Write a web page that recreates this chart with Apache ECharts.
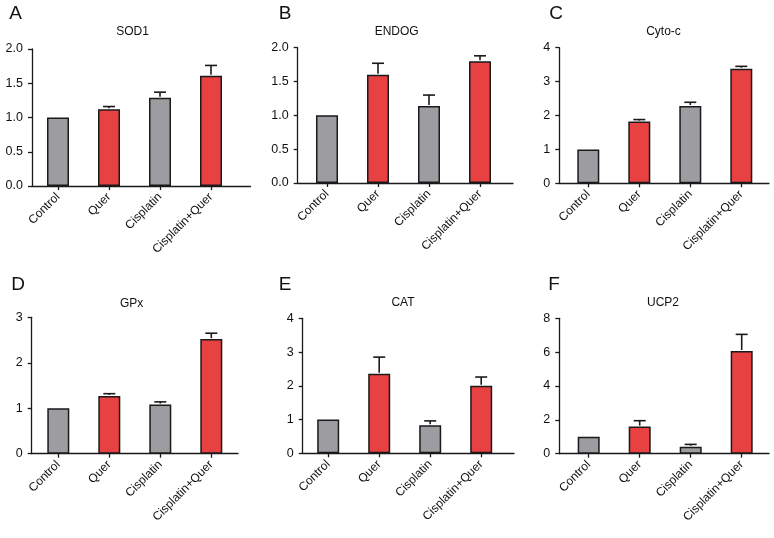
<!DOCTYPE html>
<html>
<head>
<meta charset="utf-8">
<script src="https://cdn.jsdelivr.net/npm/echarts@6/dist/echarts.min.js"></script>
<style>
html,body{margin:0;padding:0;background:#fff;}
#chart{width:774px;height:538px;}
</style>
</head>
<body>
<div id="chart"></div>
<script>
// ---- data ----
const categories = ['Control', 'Quer', 'Cisplatin', 'Cisplatin+Quer'];
const panelLetters = ['A', 'B', 'C', 'D', 'E', 'F'];
const panelTitles = ['SOD1', 'ENDOG', 'Cyto-c', 'GPx', 'CAT', 'UCP2'];
const sod1 = [1.00, 1.12, 1.29, 1.61];
const sod1Err = [0, 0.04, 0.08, 0.15];
const endog = [1.00, 1.60, 1.14, 1.80];
const endogErr = [0, 0.17, 0.16, 0.08];
const cytoc = [1.00, 1.82, 2.28, 3.38];
const cytocErr = [0, 0.06, 0.11, 0.07];
const gpx = [1.00, 1.27, 1.08, 2.52];
const gpxErr = [0, 0.05, 0.06, 0.13];
const cat = [1.00, 2.36, 0.83, 2.00];
const catErr = [0, 0.49, 0.13, 0.26];
const ucp2 = [1.00, 1.60, 0.41, 6.07];
const ucp2Err = [0, 0.35, 0.14, 0.98];
const yMax = [2, 2, 4, 3, 4, 8];
const yStep = [0.5, 0.5, 1, 1, 1, 2];
const yDecimals = [1, 1, 0, 0, 0, 0];

const values = [sod1, endog, cytoc, gpx, cat, ucp2];
const errors = [sod1Err, endogErr, cytocErr, gpxErr, catErr, ucp2Err];

// ---- layout (pixels) ----
const layout = [
  {axisX: 32,    gridLeft: 32.5,  xEnd: 250.5, top: 49,    h: 137,   letter: [15.5, 14],  title: [132.5, 31.5]},
  {axisX: 297.7, gridLeft: 301.5, xEnd: 513,   top: 47.7,  h: 135.3, letter: [285, 14],   title: [396.7, 31.7]},
  {axisX: 559.3, gridLeft: 562.8, xEnd: 769,   top: 47.7,  h: 135.6, letter: [556, 13.5], title: [663.5, 31.5]},
  {axisX: 31.7,  gridLeft: 32.8,  xEnd: 238,   top: 317.3, h: 136.4, letter: [18, 285],   title: [131.7, 304]},
  {axisX: 302.7, gridLeft: 302.7, xEnd: 514,   top: 318.3, h: 135,   letter: [285, 285],  title: [403, 303]},
  {axisX: 559.3, gridLeft: 563.2, xEnd: 769,   top: 318.3, h: 135.4, letter: [554, 285],  title: [663, 303]}
];
const bandW = 51;
const FONT = '"Liberation Sans", Arial, sans-serif';
const GRAY = '#9d9ca1';
const RED = '#e84141';
const INK = '#1a1a1a';

const grid = [], xAxis = [], yAxis = [], series = [], graphic = [];

layout.forEach((L, p) => {
  grid.push({left: L.gridLeft, top: L.top, width: bandW * 4, height: L.h, containLabel: false});
  grid.push({left: L.axisX, top: L.top, width: L.xEnd - L.axisX, height: L.h, containLabel: false});
  const gMain = p * 2, gLine = p * 2 + 1;

  xAxis.push({
    type: 'category', gridIndex: gMain, data: categories,
    axisLine: {show: false},
    axisTick: {show: true, alignWithLabel: true, length: 4, lineStyle: {color: INK, width: 1.3}},
    axisLabel: {rotate: 45, fontSize: 12, color: '#111', fontFamily: FONT, margin: 9, interval: 0},
    splitLine: {show: false}
  });
  xAxis.push({
    type: 'value', gridIndex: gLine, min: 0, max: 1,
    axisLine: {show: true, onZero: false, lineStyle: {color: INK, width: 1.3}},
    axisTick: {show: false}, axisLabel: {show: false}, splitLine: {show: false}
  });
  yAxis.push({
    type: 'value', gridIndex: gMain, min: 0, max: yMax[p], interval: yStep[p],
    offset: L.gridLeft - L.axisX,
    axisLine: {show: true, lineStyle: {color: INK, width: 1.3}},
    axisTick: {show: true, length: 4, lineStyle: {color: INK, width: 1.3}},
    axisLabel: {fontSize: 12.5, color: '#111', fontFamily: FONT, margin: 9,
      formatter: (v) => v.toFixed(yDecimals[p])},
    splitLine: {show: false}
  });
  yAxis.push({type: 'value', gridIndex: gLine, show: false, min: 0, max: 1});

  const yi = p * 2, xi = p * 2;
  series.push({
    type: 'bar', xAxisIndex: xi, yAxisIndex: yi,
    data: values[p], barWidth: 22,
    itemStyle: {
      color: (prm) => (prm.dataIndex % 2 === 1 ? RED : GRAY),
      borderColor: INK, borderWidth: 1.5
    },
    silent: true, animation: false
  });
  series.push({
    type: 'custom', xAxisIndex: xi, yAxisIndex: yi,
    data: values[p].map((v, i) => [i, v, errors[p][i]]),
    renderItem: (params, api) => {
      const i = api.value(0), v = api.value(1), e = api.value(2);
      if (!e) return null;
      const base = api.coord([i, v]);
      const top = api.coord([i, v + e]);
      const cap = 6;
      const st = {stroke: INK, lineWidth: 1.6};
      return {
        type: 'group', children: [
          {type: 'line', shape: {x1: base[0], y1: base[1] - 1, x2: top[0], y2: top[1]}, style: st},
          {type: 'line', shape: {x1: top[0] - cap, y1: top[1], x2: top[0] + cap, y2: top[1]}, style: st}
        ]
      };
    },
    z: 5, silent: true, animation: false
  });

  graphic.push({type: 'text', x: L.letter[0], y: L.letter[1],
    style: {text: panelLetters[p], fontSize: 19, fontFamily: FONT, fill: '#111', align: 'center', verticalAlign: 'middle'}});
  graphic.push({type: 'text', x: L.title[0], y: L.title[1],
    style: {text: panelTitles[p], fontSize: 12, fontFamily: FONT, fill: '#111', align: 'center', verticalAlign: 'middle'}});
});

const chart = echarts.init(document.getElementById('chart'), null, {renderer: 'canvas'});
chart.setOption({
  backgroundColor: '#ffffff',
  animation: false,
  textStyle: {fontFamily: FONT},
  grid, xAxis, yAxis, series, graphic
});
</script>
</body>
</html>
